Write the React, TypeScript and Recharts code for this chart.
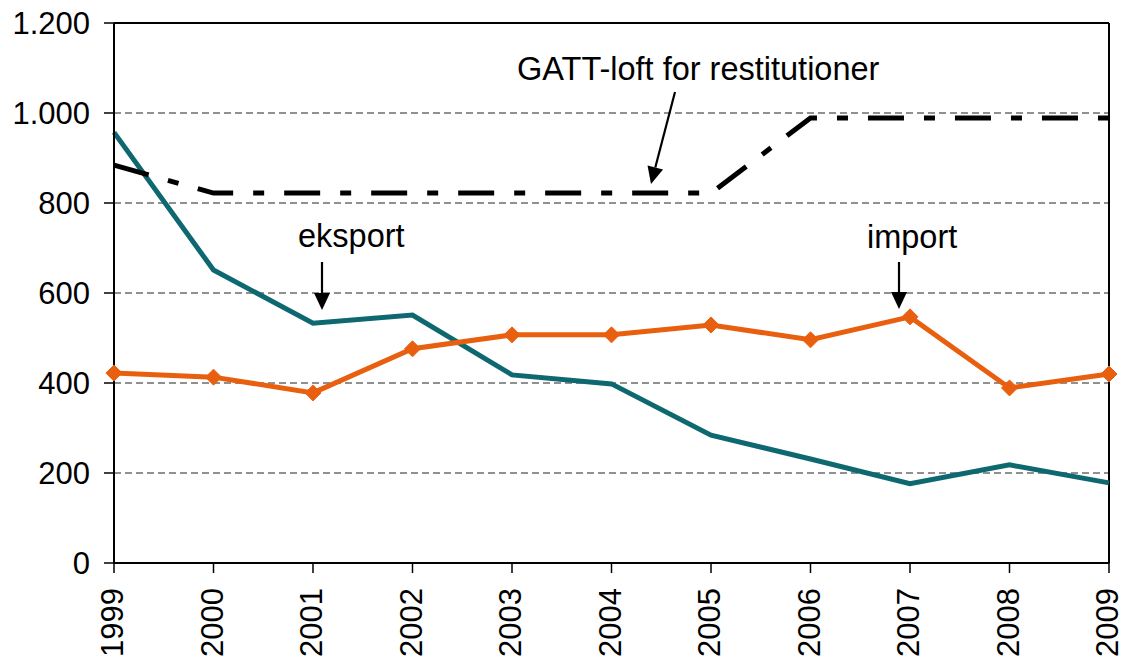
import { LineChart, Line, XAxis, YAxis, CartesianGrid, ReferenceLine } from 'recharts';

const years = ['1999', '2000', '2001', '2002', '2003', '2004', '2005', '2006', '2007', '2008', '2009'];
const eksport = [957, 651, 533, 551, 418, 398, 284, 231, 176, 218, 178];
const importValues = [422, 413, 378, 476, 507, 507, 529, 496, 547, 389, 420];
const gattLoft = [884, 822, 822, 822, 822, 822, 822, 989, 989, 989, 989];
const yTicks = [0, 200, 400, 600, 800, 1000, 1200];

const TEAL = "#0d6870";
const ORANGE = "#e8600f";
const FONT = "Arial, 'Liberation Sans', sans-serif";

const data = years.map((year, i) => ({
    year,
    eksport: eksport[i],
    import: importValues[i],
    gatt: gattLoft[i],
}));

// 1200 -> "1.200"
const formatThousands = (v: number) => String(v).replace(/\B(?=(\d{3})+(?!\d))/g, '.');

const YearTick = ({ x, y, payload }: any) => (
    <text
        transform={`translate(${x},${y + 15}) rotate(-90)`}
        x={0}
        y={9}
        textAnchor="end"
        fontSize={31}
        fontFamily={FONT}
        fill="#000"
    >
        {payload.value}
    </text>
);

const Diamond = ({ cx, cy }: any) => {
    if (cx == null || cy == null) return null;
    const r = 8;
    return (
        <polygon
            points={`${cx},${cy - r} ${cx + r},${cy} ${cx},${cy + r} ${cx - r},${cy}`}
            fill={ORANGE}
            stroke={ORANGE}
        />
    );
};

// small arrow with filled head, pointing at (x2, y2)
const Arrow = ({ x1, y1, x2, y2 }: { x1: number; y1: number; x2: number; y2: number }) => {
    const ang = Math.atan2(y2 - y1, x2 - x1);
    const len = 17;
    const half = 8;
    const bx = x2 - len * Math.cos(ang);
    const by = y2 - len * Math.sin(ang);
    const px = -Math.sin(ang) * half;
    const py = Math.cos(ang) * half;
    return (
        <g>
            <line x1={x1} y1={y1} x2={bx} y2={by} stroke="#000" strokeWidth={2.2} />
            <polygon points={`${x2},${y2} ${bx + px},${by + py} ${bx - px},${by - py}`} fill="#000" />
        </g>
    );
};

export default function App() {
    return (
        <div style={{ position: 'absolute', left: 0, top: 0, width: 1125, height: 659, background: '#fff' }}>
            <LineChart
                width={1125}
                height={659}
                data={data}
                margin={{ top: 23, right: 16, left: 0, bottom: 0 }}
            >
                <CartesianGrid vertical={false} stroke="#222" strokeOpacity={1} strokeDasharray="7 4" />
                <XAxis
                    dataKey="year"
                    height={96}
                    interval={0}
                    tick={<YearTick />}
                    tickSize={10}
                    tickMargin={0}
                    axisLine={{ stroke: '#000', strokeWidth: 2 }}
                    tickLine={{ stroke: '#000', strokeWidth: 1.5 }}
                />
                <YAxis
                    width={114}
                    domain={[0, 1200]}
                    ticks={yTicks}
                    interval={0}
                    tickFormatter={formatThousands}
                    tickSize={10}
                    tickMargin={14}
                    tick={{ fontSize: 31, fontFamily: FONT, fill: '#000' }}
                    axisLine={{ stroke: '#000', strokeWidth: 2 }}
                    tickLine={{ stroke: '#000', strokeWidth: 1.5 }}
                />
                <ReferenceLine y={1200} stroke="#000" strokeWidth={2} />
                <ReferenceLine x="2009" stroke="#000" strokeWidth={2} />
                <Line
                    dataKey="eksport"
                    stroke={TEAL}
                    strokeWidth={5}
                    dot={false}
                    isAnimationActive={false}
                />
                <Line
                    dataKey="import"
                    stroke={ORANGE}
                    strokeWidth={5}
                    dot={<Diamond />}
                    isAnimationActive={false}
                />
                <Line
                    dataKey="gatt"
                    stroke="#000"
                    strokeWidth={5}
                    strokeDasharray="36 20 11 20"
                    strokeLinecap="butt"
                    dot={false}
                    isAnimationActive={false}
                />
            </LineChart>
            <svg
                width={1125}
                height={659}
                style={{ position: 'absolute', left: 0, top: 0, pointerEvents: 'none' }}
                fontFamily={FONT}
                fontSize={32.5}
            >
                <text x={517} y={80} fill="#000">GATT-loft for restitutioner</text>
                <Arrow x1={675} y1={92} x2={651} y2={184} />
                <text x={298} y={247} fill="#000">eksport</text>
                <Arrow x1={322} y1={262} x2={322} y2={310} />
                <text x={867} y={248} fill="#000">import</text>
                <Arrow x1={899} y1={262} x2={899} y2={309} />
            </svg>
        </div>
    );
}
